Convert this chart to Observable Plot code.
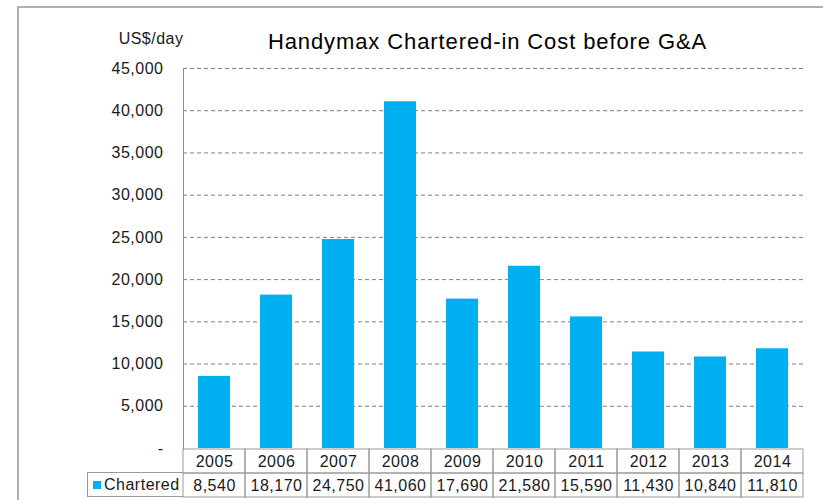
<!DOCTYPE html>
<html>
<head>
<meta charset="utf-8">
<script src="https://cdn.jsdelivr.net/npm/d3@7"></script>
<script src="https://cdn.jsdelivr.net/npm/@observablehq/plot@0.6"></script>
<style>
  html, body { margin: 0; padding: 0; background: #fff; }
  #wrap { position: relative; width: 823px; height: 500px; overflow: hidden; font-family: "Liberation Sans", Arial, sans-serif; }
  #wrap > .layer { position: absolute; left: 0; top: 0; }
  #wrap > .layer text { letter-spacing: 0.5px; }
  #wrap > .layer text.title-text { letter-spacing: 0.9px; }
  #border { position: absolute; left: 17px; top: 6px; width: 900px; height: 600px; border-left: 2px solid #b0b0b0; border-top: 2px solid #b0b0b0; }
  #legendCell { position: absolute; left: 87px; top: 472px; width: 96px; height: 25px; box-sizing: border-box;
    border: 1px solid #999; border-right: none; font-size: 16px; color: #1a1a1a; display: flex; align-items: center; letter-spacing: 0.5px; }
  #legendCell .sw { width: 8px; height: 8px; background: #00B0F0; margin-left: 5px; margin-right: 3px; }
</style>
</head>
<body>
<div id="wrap"><div id="border"></div></div>
<script>
const title = "Handymax Chartered-in Cost before G&A";
const unitLabel = "US$/day";
const seriesName = "Chartered";
const years = ["2005","2006","2007","2008","2009","2010","2011","2012","2013","2014"];
const values = [8540, 18170, 24750, 41060, 17690, 21580, 15590, 11430, 10840, 11810];
const yTicks = [0, 5000, 10000, 15000, 20000, 25000, 30000, 35000, 40000, 45000];

const barColor = "#00B0F0";
const fmt = d3.format(",");
const data = years.map((year, i) => ({year, value: values[i]}));

const font = '"Liberation Sans", Arial, sans-serif';

const chart = Plot.plot({
  width: 823, height: 500,
  marginLeft: 183, marginRight: 20, marginTop: 68, marginBottom: 52,
  style: {fontFamily: font, fontSize: "16px", color: "#1a1a1a", background: "transparent"},
  x: {type: "band", domain: years, paddingInner: 0.48, paddingOuter: 0.24, axis: null},
  y: {domain: [0, 45000], axis: null},
  marks: [
    Plot.gridY(yTicks.filter(d => d > 0), {stroke: "#7f7f7f", strokeOpacity: 1, strokeDasharray: "4,3"}),
    Plot.barY(data, {x: "year", y: "value", fill: barColor}),
    Plot.axisY(yTicks, {tickSize: 0, tickPadding: 20, tickFormat: d => d === 0 ? "-" : fmt(d), label: null, fontSize: 16, fill: "#1a1a1a"}),
    Plot.frame({anchor: "left", stroke: "#8c8c8c"}),
    Plot.text([title], {frameAnchor: "top", dx: -6, dy: -27, fontSize: 22, fill: "#000", lineAnchor: "middle", className: "title-text"}),
    Plot.text([unitLabel], {frameAnchor: "top-left", textAnchor: "end", dx: 0, dy: -30, fontSize: 16, fill: "#1a1a1a", lineAnchor: "middle"})
  ]
});
chart.classList.add("layer");
chart.querySelectorAll("g[aria-label=text]").forEach((g, i) => { if (i === 0) g.querySelectorAll("text").forEach(t => t.classList.add("title-text")); });

const rows = ["Year", seriesName];
const cells = [];
years.forEach((year, i) => {
  cells.push({year, row: "Year", text: year});
  cells.push({year, row: seriesName, text: fmt(values[i])});
});

const table = Plot.plot({
  width: 823, height: 500,
  marginLeft: 183, marginRight: 20, marginTop: 448, marginBottom: 3,
  style: {fontFamily: font, fontSize: "16px", color: "#1a1a1a", background: "transparent"},
  x: {type: "band", domain: years, padding: 0, axis: null},
  y: {type: "band", domain: rows, padding: 0, axis: null},
  marks: [
    Plot.cell(cells, {x: "year", y: "row", fill: "none", stroke: "#999"}),
    Plot.text(cells, {x: "year", y: "row", text: "text", fontSize: 16, fill: "#1a1a1a"})
  ]
});
table.classList.add("layer");

const wrap = document.getElementById("wrap");
wrap.appendChild(chart);
wrap.appendChild(table);

const leg = document.createElement("div");
leg.id = "legendCell";
leg.innerHTML = '<span class="sw"></span><span></span>';
leg.lastChild.textContent = seriesName;
wrap.appendChild(leg);
</script>
</body>
</html>
